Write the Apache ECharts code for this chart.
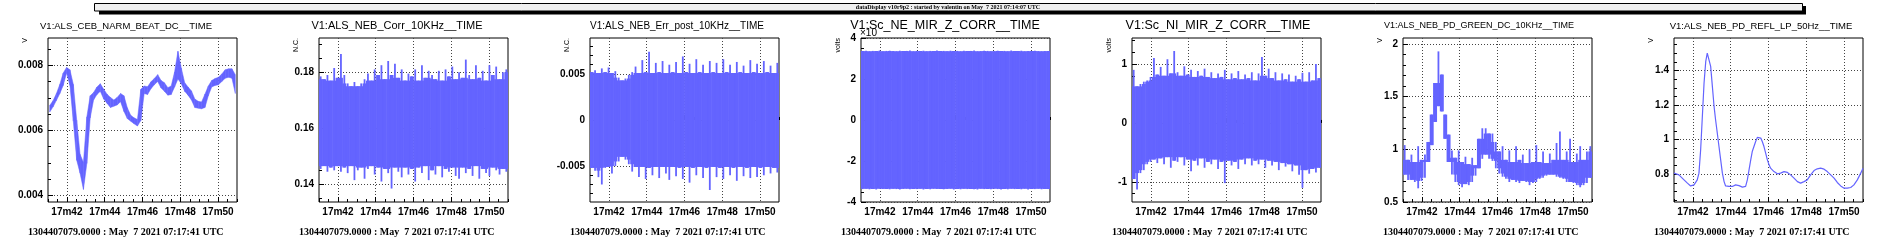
<!DOCTYPE html>
<html>
<head>
<meta charset="utf-8">
<script src="https://cdn.jsdelivr.net/npm/echarts@6/dist/echarts.min.js"></script>
<style>
html, body { margin: 0; padding: 0; background: #fff; }
#main { width: 1897px; height: 245px; }
</style>
</head>
<body>
<div id="main"></div>
<script>
var chartDom = document.getElementById('main');
var myChart = echarts.init(chartDom, null, {renderer: 'canvas'});
var option;

// texts
var banner = 'dataDisplay v10r9p2 : started by valentin on May  7 2021 07:14:07 UTC';
var stamp = '1304407079.0000 : May  7 2021 07:17:41 UTC';
var titles = ['V1:ALS_CEB_NARM_BEAT_DC__TIME', 'V1:ALS_NEB_Corr_10KHz__TIME', 'V1:ALS_NEB_Err_post_10KHz__TIME',
  'V1:Sc_NE_MIR_Z_CORR__TIME', 'V1:Sc_NI_MIR_Z_CORR__TIME', 'V1:ALS_NEB_PD_GREEN_DC_10KHz__TIME', 'V1:ALS_NEB_PD_REFL_LP_50Hz__TIME'];
var units = ['V', 'N.C.', 'N.C.', 'volts', 'volts', 'V', 'V'];

// x axis: seconds of 07:17, from 41 to 51
var xTickLabels = ['17m42', '17m44', '17m46', '17m48', '17m50'];

// y tick labels per pad
var yTickLabels = [
  ['0.004', '0.006', '0.008'],
  ['0.14', '0.16', '0.18'],
  ['-0.005', '0', '0.005'],
  ['-4', '-2', '0', '2', '4'],
  ['-1', '0', '1'],
  ['0.5', '1', '1.5', '2'],
  ['0.8', '1', '1.2', '1.4']
];

// min/max envelope of each column (56 columns over 10 s)
var beatHi = [0.00675,0.00690,0.00712,0.00740,0.00775,0.00792,0.00785,0.00740,0.00630,0.00525,
  0.00500,0.00640,0.00705,0.00715,0.00732,0.00742,0.00725,0.00710,0.00700,0.00692,
  0.00700,0.00712,0.00705,0.00668,0.00645,0.00637,0.00632,0.00725,0.00735,0.00733,
  0.00748,0.00758,0.00770,0.00752,0.00745,0.00730,0.00735,0.00778,0.00842,0.00790,
  0.00745,0.00732,0.00720,0.00695,0.00688,0.00686,0.00710,0.00735,0.00752,0.00758,
  0.00762,0.00772,0.00785,0.00788,0.00788,0.00770];
var beatLo = [0.00658,0.00674,0.00694,0.00715,0.00740,0.00778,0.00740,0.00630,0.00510,0.00470,
  0.00420,0.00500,0.00640,0.00695,0.00712,0.00722,0.00698,0.00685,0.00672,0.00676,
  0.00680,0.00690,0.00660,0.00638,0.00630,0.00622,0.00615,0.00632,0.00715,0.00712,
  0.00730,0.00742,0.00752,0.00732,0.00722,0.00710,0.00712,0.00735,0.00760,0.00745,
  0.00722,0.00710,0.00695,0.00672,0.00670,0.00668,0.00672,0.00708,0.00735,0.00740,
  0.00742,0.00752,0.00762,0.00765,0.00762,0.00715];

var corrHi = [0.1785,0.1775,0.1790,0.1770,0.1815,0.1780,0.1865,0.1790,0.1760,0.1750,
  0.1765,0.1750,0.1760,0.1775,0.1795,0.1770,0.1810,0.1790,0.1825,0.1775,
  0.1840,0.1790,0.1830,0.1780,0.1810,0.1770,0.1795,0.1785,0.1810,0.1770,
  0.1825,0.1780,0.1805,0.1790,0.1775,0.1805,0.1770,0.1810,0.1785,0.1820,
  0.1775,0.1800,0.1780,0.1845,0.1790,0.1775,0.1825,0.1780,0.1805,0.1770,
  0.1825,0.1790,0.1820,0.1775,0.1800,0.1810];
var corrLo = [0.1455,0.1465,0.1445,0.1460,0.1450,0.1465,0.1445,0.1460,0.1440,0.1465,
  0.1415,0.1450,0.1460,0.1420,0.1455,0.1465,0.1435,0.1460,0.1410,0.1455,
  0.1440,0.1385,0.1460,0.1445,0.1425,0.1460,0.1435,0.1455,0.1410,0.1460,
  0.1440,0.1465,0.1415,0.1450,0.1435,0.1465,0.1425,0.1455,0.1445,0.1460,
  0.1430,0.1420,0.1460,0.1440,0.1455,0.1430,0.1465,0.1420,0.1455,0.1440,
  0.1430,0.1460,0.1450,0.1435,0.1455,0.1445];

var errHi = [0.0052,0.0054,0.0051,0.0056,0.0052,0.0057,0.0051,0.0053,0.0046,0.0043,
  0.0045,0.0049,0.0052,0.0058,0.0051,0.0065,0.0052,0.0074,0.0051,0.0062,
  0.0052,0.0064,0.0051,0.0060,0.0052,0.0063,0.0051,0.0069,0.0052,0.0061,
  0.0051,0.0066,0.0052,0.0060,0.0051,0.0064,0.0052,0.0062,0.0051,0.0066,
  0.0052,0.0060,0.0051,0.0063,0.0052,0.0059,0.0051,0.0065,0.0052,0.0061,
  0.0051,0.0064,0.0052,0.0059,0.0051,0.0062];
var errLo = [-0.0052,-0.0055,-0.0062,-0.0070,-0.0052,-0.0051,-0.0058,-0.0050,-0.0045,-0.0040,
  -0.0043,-0.0048,-0.0056,-0.0051,-0.0062,-0.0051,-0.0064,-0.0052,-0.0060,-0.0051,
  -0.0063,-0.0051,-0.0058,-0.0065,-0.0051,-0.0061,-0.0052,-0.0064,-0.0051,-0.0068,
  -0.0052,-0.0060,-0.0051,-0.0063,-0.0052,-0.0076,-0.0051,-0.0062,-0.0052,-0.0064,
  -0.0051,-0.0060,-0.0052,-0.0066,-0.0051,-0.0061,-0.0052,-0.0063,-0.0051,-0.0062,
  -0.0052,-0.0060,-0.0051,-0.0058,-0.0052,-0.0057];

var neHi = [3.36,3.38,3.35,3.37,3.36,3.39,3.35,3.37,3.38,3.36,
  3.35,3.38,3.36,3.37,3.39,3.35,3.37,3.36,3.38,3.35,
  3.37,3.36,3.39,3.36,3.37,3.35,3.38,3.36,3.37,3.35,
  3.38,3.36,3.37,3.39,3.35,3.36,3.38,3.37,3.35,3.36,
  3.38,3.36,3.37,3.35,3.39,3.36,3.37,3.38,3.35,3.36,
  3.37,3.38,3.36,3.35,3.37,3.36];
var neLo = [-3.37,-3.35,-3.38,-3.36,-3.39,-3.35,-3.37,-3.36,-3.38,-3.35,
  -3.37,-3.39,-3.36,-3.35,-3.38,-3.36,-3.37,-3.35,-3.39,-3.36,
  -3.38,-3.35,-3.37,-3.36,-3.38,-3.37,-3.35,-3.39,-3.36,-3.38,
  -3.35,-3.37,-3.36,-3.38,-3.39,-3.35,-3.37,-3.36,-3.38,-3.35,
  -3.37,-3.39,-3.36,-3.38,-3.35,-3.37,-3.36,-3.38,-3.35,-3.39,
  -3.36,-3.37,-3.35,-3.38,-3.36,-3.37];

var niHi = [0.90,0.62,0.66,0.70,0.72,0.78,1.10,0.82,0.95,0.80,
  1.08,0.84,1.22,0.86,0.80,0.96,0.82,0.90,0.78,0.88,
  0.80,0.92,0.78,0.86,0.76,0.84,0.78,0.90,0.74,0.84,
  0.76,0.88,0.74,0.82,0.76,0.86,0.72,0.84,1.12,0.80,
  0.92,0.76,0.86,0.72,0.84,0.74,0.82,0.70,0.80,0.74,
  0.85,0.70,0.86,0.72,1.00,0.76];
var niLo = [-0.95,-1.13,-0.85,-0.80,-0.70,-0.66,-0.62,-0.68,-0.60,-0.70,
  -0.58,-0.76,-0.64,-0.66,-0.58,-0.72,-0.62,-0.82,-0.64,-0.72,
  -0.60,-0.76,-0.66,-0.70,-0.62,-0.78,-0.66,-1.02,-0.64,-0.72,
  -0.66,-0.78,-0.62,-0.70,-0.60,-0.72,-0.64,-0.70,-0.62,-0.76,
  -0.64,-0.72,-0.66,-0.80,-0.68,-0.74,-0.70,-0.82,-0.72,-0.88,
  -1.10,-0.80,-0.86,-0.78,-0.84,-0.76];

var greenHi = [1.04,0.90,0.95,0.88,1.03,0.90,0.95,1.07,1.33,1.63,
  1.93,1.71,1.33,1.14,0.99,0.92,0.99,0.88,0.93,0.86,
  0.92,0.85,1.10,1.20,1.20,1.15,1.15,1.07,0.98,1.03,
  0.90,0.99,0.88,1.03,0.90,0.95,0.87,1.00,0.88,1.04,
  0.88,0.98,0.87,0.96,0.90,1.06,1.17,0.90,0.98,1.10,
  0.88,0.96,1.03,0.90,0.98,1.03];
var greenLo = [0.76,0.71,0.71,0.69,0.63,0.70,0.73,0.88,1.04,1.26,
  1.41,1.36,1.10,0.88,0.76,0.69,0.66,0.64,0.67,0.66,
  0.69,0.75,0.82,0.91,0.95,0.91,0.89,0.82,0.77,0.74,
  0.72,0.69,0.71,0.69,0.68,0.70,0.69,0.66,0.68,0.69,
  0.72,0.73,0.75,0.76,0.76,0.74,0.73,0.72,0.69,0.69,
  0.68,0.66,0.64,0.66,0.68,0.73];

// 50 Hz low-passed trace: time (s) and value
var reflTime = [41.00,41.26,41.53,41.71,41.88,42.06,42.23,42.32,42.41,42.50,42.59,42.68,42.76,42.85,42.94,
  43.03,43.12,43.20,43.29,43.38,43.47,43.56,43.65,43.73,43.91,44.09,44.26,44.44,44.62,44.79,44.88,44.97,
  45.06,45.14,45.23,45.32,45.41,45.50,45.59,45.67,45.76,45.85,45.94,46.03,46.11,46.29,46.47,46.64,46.82,
  47.00,47.17,47.35,47.53,47.70,47.88,48.05,48.23,48.41,48.58,48.76,48.94,49.11,49.29,49.47,49.64,49.82,
  50.00,50.17,50.35,50.52,50.70,50.88,51.00];
var reflVal = [0.806,0.796,0.767,0.748,0.732,0.738,0.767,0.806,0.941,1.134,1.328,1.453,1.501,1.492,1.424,
  1.308,1.192,1.115,1.038,0.960,0.883,0.806,0.757,0.732,0.729,0.729,0.738,0.734,0.725,0.729,0.767,0.825,
  0.883,0.931,0.960,0.989,1.013,1.015,1.009,0.989,0.960,0.922,0.883,0.854,0.835,0.815,0.802,0.806,0.815,
  0.810,0.796,0.777,0.757,0.748,0.757,0.767,0.796,0.821,0.831,0.835,0.829,0.815,0.796,0.777,0.752,0.732,
  0.719,0.719,0.723,0.738,0.767,0.806,0.835];

// which envelope goes in which pad; 'band' = thin trace, 'spiky' = dense noise
var bands = [[beatHi, beatLo, 'band'], [corrHi, corrLo, 'spiky'], [errHi, errLo, 'spiky'], [neHi, neLo, 'spiky'],
  [niHi, niLo, 'spiky'], [greenHi, greenLo, 'spiky'], null];

// axis ranges and minor tick steps
var yRange = [[0.003797, 0.008843], [0.1337, 0.1922], [-0.0089, 0.0089], [-4, 4], [-1.34, 1.44], [0.5, 2.057], [0.639, 1.588]];
var yMinorStep = [0.0005, 0.005, 0.001, 0.5, 0.2, 0.1, 0.05];
var titleCx = [126, 126, 135, 132, 134, 124, 135];
var titleSize = [9.5, 11, 10, 12.5, 12.5, 9, 9.5];

var blue = '#6464ff';
var padW = 271;

function minorTicks(min, max, step) {
  var out = [];
  for (var i = Math.ceil(min / step - 1e-9); i * step <= max + 1e-12; i++) {
    out.push(+(i * step).toFixed(10));
  }
  return out;
}

function labelFor(labels) {
  return function (v) {
    for (var i = 0; i < labels.length; i++) {
      if (Math.abs(Number(labels[i]) - v) < 1e-9) return labels[i];
    }
    return '';
  };
}

// thin trace: quad from this column to the next one
function renderBand(params, api) {
  var i = params.dataIndexInside;
  if (i >= params.dataInsideLength - 1) return null;
  var t0 = api.value(0, i), t1 = api.value(0, i + 1);
  var pts = [
    api.coord([t0, api.value(1, i)]), api.coord([t1, api.value(1, i + 1)]),
    api.coord([t1, api.value(2, i + 1)]), api.coord([t0, api.value(2, i)])
  ];
  pts[0][1] -= 0.5; pts[1][1] -= 0.5; pts[2][1] += 0.5; pts[3][1] += 0.5;
  return {type: 'polygon', shape: {points: pts}, style: {fill: blue, stroke: blue, lineWidth: 0.5}};
}

// dense noise: solid core shared with neighbours plus a thin spike to this column's extremes
function renderSpiky(params, api) {
  var i = params.dataIndexInside, n = params.dataInsideLength;
  var t = api.value(0), hw = api.value(3), hi = api.value(1), lo = api.value(2);
  var coreHi = hi, coreLo = lo;
  if (i > 0) { coreHi = Math.min(coreHi, api.value(1, i - 1)); coreLo = Math.max(coreLo, api.value(2, i - 1)); }
  if (i < n - 1) { coreHi = Math.min(coreHi, api.value(1, i + 1)); coreLo = Math.max(coreLo, api.value(2, i + 1)); }
  if (coreHi < coreLo) { coreHi = hi; coreLo = lo; } // steep slope: keep the whole column solid
  var a = api.coord([t - hw, coreHi]), b = api.coord([t + hw, coreLo]);
  var c = api.coord([t, hi]), d = api.coord([t, lo]);
  return {
    type: 'group',
    children: [
      {type: 'rect', shape: {x: a[0] - 0.3, y: a[1], width: b[0] - a[0] + 0.6, height: Math.max(b[1] - a[1], 1)}, style: {fill: blue}},
      {type: 'rect', shape: {x: c[0] - 0.9, y: c[1], width: 1.8, height: d[1] - c[1]}, style: {fill: blue}}
    ]
  };
}

var xMajor = xTickLabels.map(function (l) { return Number(l.split('m')[1]); });
var xMinor = minorTicks(41, 51, 0.5);
var tickFont = {fontFamily: 'Liberation Sans', fontWeight: 'bold', fontSize: 10, color: '#000'};

var grids = [], xAxes = [], yAxes = [], series = [], graphics = [];

graphics.push({type: 'rect', shape: {x: 99, y: 6, width: 1707, height: 8.5}, style: {fill: '#000'}});
graphics.push({type: 'rect', shape: {x: 94.5, y: 3.5, width: 1708, height: 7.5}, style: {fill: '#f0f0f0', stroke: '#000', lineWidth: 1}});
graphics.push({type: 'text', x: 948, y: 7.2, style: {text: banner, fontFamily: 'Liberation Serif', fontWeight: 'bold', fontSize: 6,
  fill: '#000', align: 'center', textAlign: 'center', verticalAlign: 'middle', textVerticalAlign: 'middle'}});

for (var k = 0; k < 7; k++) {
  var P = k * padW;
  var yMin = yRange[k][0], yMax = yRange[k][1];
  var yMajor = yTickLabels[k].map(Number);
  var yMinor = minorTicks(yMin, yMax, yMinorStep[k]);

  grids.push({left: P + 48, top: 38, width: 189, height: 164, show: true, borderColor: '#000', borderWidth: 1,
    backgroundColor: 'transparent', containLabel: false, outerBoundsMode: 'none'});

  xAxes.push({gridIndex: k, type: 'value', min: 41, max: 51, position: 'bottom',
    axisLine: {show: false},
    axisTick: {show: true, inside: true, length: 5, customValues: xMajor, lineStyle: {color: '#000'}},
    axisLabel: Object.assign({show: true, customValues: xMajor, margin: 5, formatter: function (v) {
      var j = xMajor.indexOf(Math.round(v));
      return j >= 0 ? xTickLabels[j] : '';
    }}, tickFont),
    splitLine: {show: true, lineStyle: {color: '#444', width: 1, type: [1, 2]}}});
  xAxes.push({gridIndex: k, type: 'value', min: 41, max: 51, position: 'bottom',
    axisLine: {show: false}, axisLabel: {show: false}, splitLine: {show: false},
    axisTick: {show: true, inside: true, length: 3, customValues: xMinor, lineStyle: {color: '#000'}}});

  yAxes.push({gridIndex: k, type: 'value', min: yMin, max: yMax, position: 'left',
    axisLine: {show: false},
    axisTick: {show: true, inside: true, length: 5, customValues: yMajor, lineStyle: {color: '#000'}},
    axisLabel: Object.assign({show: true, customValues: yMajor, margin: 5, formatter: labelFor(yTickLabels[k])}, tickFont),
    splitLine: {show: true, lineStyle: {color: '#444', width: 1, type: [1, 2]}}});
  yAxes.push({gridIndex: k, type: 'value', min: yMin, max: yMax, position: 'left',
    axisLine: {show: false}, axisLabel: {show: false}, splitLine: {show: false},
    axisTick: {show: true, inside: true, length: 3, customValues: yMinor, lineStyle: {color: '#000'}}});

  if (bands[k]) {
    var hi = bands[k][0], lo = bands[k][1], n = hi.length, rows = [];
    for (var i = 0; i < n; i++) {
      rows.push([41 + (i + 0.5) * 10 / n, hi[i], lo[i], 5 / n]);
    }
    series.push({type: 'custom', xAxisIndex: 2 * k, yAxisIndex: 2 * k,
      renderItem: bands[k][2] === 'band' ? renderBand : renderSpiky,
      data: rows, clip: true, encode: {x: 0, y: [1, 2]}, silent: true});
  } else {
    series.push({type: 'line', xAxisIndex: 2 * k, yAxisIndex: 2 * k, showSymbol: false, symbol: 'none', clip: true,
      data: reflTime.map(function (t, i) { return [t, reflVal[i]]; }),
      lineStyle: {color: blue, width: 1.2}, silent: true});
  }

  graphics.push({type: 'text', x: P + titleCx[k], y: 26, style: {text: titles[k], fontFamily: 'Liberation Sans',
    fontSize: titleSize[k], fill: '#000', align: 'center', textAlign: 'center', verticalAlign: 'middle', textVerticalAlign: 'middle'}});
  graphics.push({type: 'text', x: P + 25, y: 38, rotation: Math.PI / 2, style: {text: units[k], fontFamily: 'Liberation Sans',
    fontSize: 7, fill: '#000', align: 'right', textAlign: 'right', verticalAlign: 'middle', textVerticalAlign: 'middle'}});
  graphics.push({type: 'text', x: P + 28, y: 232, style: {text: stamp, fontFamily: 'Liberation Serif', fontWeight: 'bold',
    fontSize: 10, fill: '#000', align: 'left', textAlign: 'left', verticalAlign: 'middle', textVerticalAlign: 'middle'}});
}

// exponent of the Sc_NE pad
graphics.push({type: 'text', x: 3 * padW + 47, y: 33.5, style: {text: '\u00d710', fontFamily: 'Liberation Sans',
  fontSize: 10, fill: '#000', align: 'left', textAlign: 'left', verticalAlign: 'middle', textVerticalAlign: 'middle'}});

option = {
  animation: false,
  backgroundColor: '#fff',
  grid: grids,
  xAxis: xAxes,
  yAxis: yAxes,
  series: series,
  graphic: {elements: graphics}
};

option && myChart.setOption(option);
</script>
</body>
</html>
